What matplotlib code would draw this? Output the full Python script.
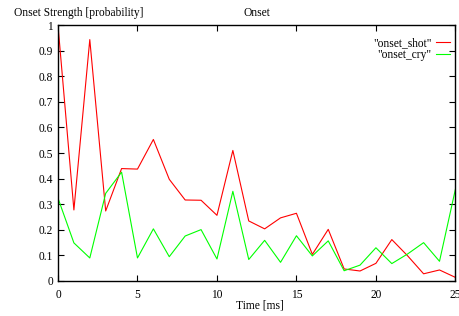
import matplotlib
matplotlib.use("Agg")
import matplotlib.pyplot as plt
from matplotlib.ticker import FixedLocator, FixedFormatter

time_ms = list(range(26))
onset_shot = [1.0, 0.277, 0.944, 0.273, 0.439, 0.437, 0.553, 0.397, 0.316, 0.315,
              0.256, 0.51, 0.234, 0.203, 0.246, 0.264, 0.103, 0.201, 0.046, 0.038,
              0.068, 0.161, 0.097, 0.027, 0.042, 0.013]
onset_cry = [0.323, 0.148, 0.089, 0.342, 0.425, 0.089, 0.203, 0.094, 0.175, 0.2,
             0.085, 0.35, 0.083, 0.158, 0.072, 0.176, 0.097, 0.156, 0.039, 0.061,
             0.129, 0.067, 0.105, 0.149, 0.076, 0.358]
x_ticks = [0, 5, 10, 15, 20, 25]
x_tick_labels = ["0", "5", "10", "15", "20", "25"]
y_ticks = [0, 0.1, 0.2, 0.3, 0.4, 0.5, 0.6, 0.7, 0.8, 0.9, 1.0]
y_tick_labels = ["0", "0.1", "0.2", "0.3", "0.4", "0.5", "0.6", "0.7", "0.8", "0.9", "1"]
series_names = ['"onset_shot"', '"onset_cry"']

FONT = "Liberation Serif"
FS = 8.3

fig = plt.figure(figsize=(4.59, 3.16), dpi=100)
ax = fig.add_axes([58 / 459, 1 - 280.7 / 316, (455.4 - 58) / 459, (280.7 - 25.3) / 316])

ax.plot(time_ms, onset_shot, color="#ff0000", lw=0.8, label=series_names[0])
ax.plot(time_ms, onset_cry, color="#00ff00", lw=0.8, label=series_names[1])

ax.set_xlim(0, 25)
ax.set_ylim(0, 1)
ax.xaxis.set_major_locator(FixedLocator(x_ticks))
ax.xaxis.set_major_formatter(FixedFormatter(x_tick_labels))
ax.yaxis.set_major_locator(FixedLocator(y_ticks))
ax.yaxis.set_major_formatter(FixedFormatter(y_tick_labels))
ax.tick_params(direction="in", length=4, width=0.8, top=True, right=True,
               labelsize=FS)
ax.tick_params(axis="x", pad=6)
ax.tick_params(axis="y", pad=3.5)
for lab in ax.get_xticklabels() + ax.get_yticklabels():
    lab.set_fontfamily(FONT)
for sp in ax.spines.values():
    sp.set_linewidth(1.0)

fig.text(14 / 459, 1 - 12.7 / 316, "Onset Strength [probability]", family=FONT,
         fontsize=FS, ha="left", va="center")
fig.text(257 / 459, 1 - 12.7 / 316, "Onset", family=FONT,
         fontsize=FS, ha="center", va="center")
fig.text(259.5 / 459, 1 - 306 / 316, "Time [ms]", family=FONT,
         fontsize=FS, ha="center", va="center")

leg = ax.legend(loc="upper right", frameon=False, markerfirst=False,
                prop={"family": FONT, "size": FS}, handlelength=1.15,
                handletextpad=0.4, labelspacing=0.0, borderaxespad=0.0,
                borderpad=0.0,
                bbox_to_anchor=(449.5 / 459, 1 - 37 / 316),
                bbox_transform=fig.transFigure)

fig.savefig("out.png", dpi=100)
